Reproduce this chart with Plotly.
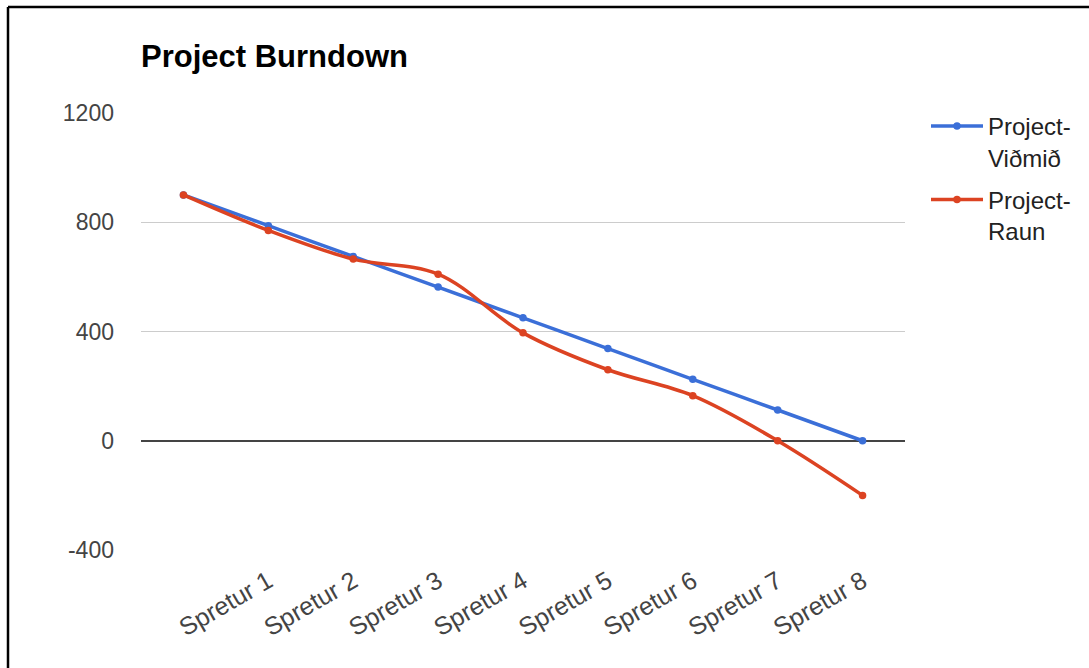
import plotly.graph_objects as go

# Sprint labels (the first slot is the starting point and has no label)
categories = ["", "Spretur 1", "Spretur 2", "Spretur 3", "Spretur 4",
              "Spretur 5", "Spretur 6", "Spretur 7", "Spretur 8"]
planned = [900, 787.5, 675, 562.5, 450, 337.5, 225, 112.5, 0]
actual = [900, 770, 665, 610, 395, 260, 165, 0, -200]
y_ticks = [-400, 0, 400, 800, 1200]
y_tick_text = ["-400", "0", "400", "800", "1200"]

BLUE = "#3b6fd8"
RED = "#dc4322"
FONT = "Liberation Sans, Arial, sans-serif"

W, H = 1089, 668
L, R, T, B = 141, 184, 113, 118
PW, PH = W - L - R, H - T - B


def px_x(p):
    return (p - L) / PW


def px_y(p):
    return (H - B - p) / PH


x = list(range(len(categories)))

fig = go.Figure()
fig.add_trace(go.Scatter(
    x=x, y=planned, name="Project-<br>Viðmið", mode="lines+markers",
    legendgroup="plan",
    line=dict(color=BLUE, width=3.5, shape="spline", smoothing=1),
    marker=dict(color=BLUE, size=7.5),
))
fig.add_trace(go.Scatter(
    x=x, y=actual, name="Project-<br>Raun", mode="lines+markers",
    legendgroup="actual",
    line=dict(color=RED, width=3.5, shape="spline", smoothing=1),
    marker=dict(color=RED, size=7.5),
))

fig.update_layout(
    width=W, height=H,
    margin=dict(l=L, r=R, t=T, b=B, autoexpand=False),
    paper_bgcolor="white", plot_bgcolor="white",
    font=dict(family=FONT, size=23, color="#444444"),
    title=dict(
        text="<b>Project Burndown</b>",
        font=dict(family=FONT, size=31, color="#000000"),
        x=px_x(141), xref="paper", xanchor="left",
        y=1 - 56 / H, yanchor="middle",
    ),
    showlegend=True,
    legend=dict(
        x=px_x(926), xanchor="left", y=px_y(104), yanchor="top",
        valign="top", tracegroupgap=8, itemwidth=52,
        font=dict(family=FONT, size=24, color="#222222"),
        bgcolor="rgba(0,0,0,0)",
    ),
    xaxis=dict(
        range=[-0.5, len(categories) - 0.5],
        tickmode="array", tickvals=x, ticktext=categories,
        tickangle=-30, showgrid=False, zeroline=False, showline=False,
        ticks="", ticklabelstandoff=11,
        tickfont=dict(family=FONT, size=25, color="#444444"),
    ),
    yaxis=dict(
        range=[-400, 1200],
        tickmode="array", tickvals=y_ticks, ticktext=y_tick_text,
        showgrid=True, gridcolor="#cccccc", gridwidth=1,
        zeroline=True, zerolinecolor="#444444", zerolinewidth=2,
        showline=False, ticks="", ticklabelstandoff=26,
        tickfont=dict(family=FONT, size=23, color="#444444"),
    ),
    shapes=[
        dict(type="line", xref="paper", yref="paper",
             x0=px_x(8), x1=px_x(W + 5), y0=px_y(7), y1=px_y(7),
             line=dict(color="#000000", width=2.5)),
        dict(type="line", xref="paper", yref="paper",
             x0=px_x(8), x1=px_x(8), y0=px_y(7), y1=px_y(H + 5),
             line=dict(color="#000000", width=2.5)),
    ],
)

fig.write_html("out.html")
